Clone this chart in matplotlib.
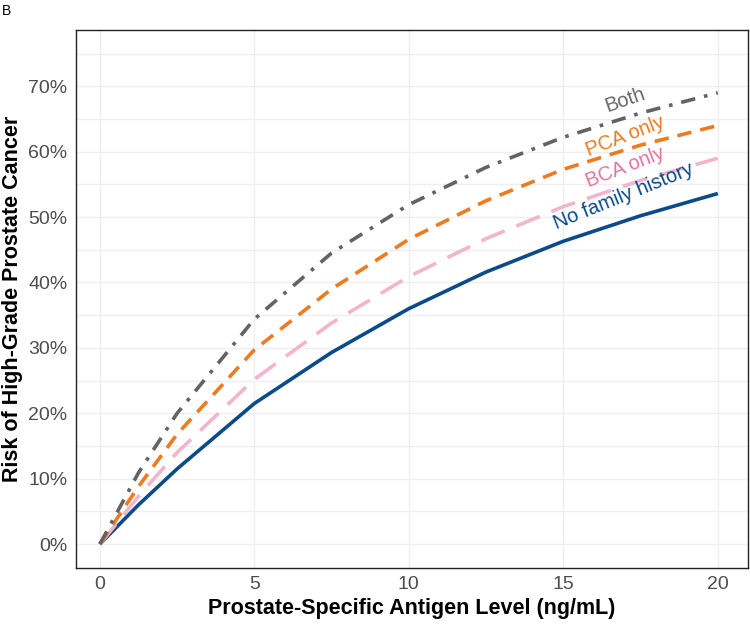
import matplotlib.pyplot as plt
from matplotlib.ticker import PercentFormatter, MultipleLocator

plt.rcParams['font.family'] = ['Liberation Sans', 'DejaVu Sans']

# PSA level (ng/mL)
psa = [0, 1.25, 2.5, 5, 7.5, 10, 12.5, 15, 17.5, 20]

# Risk of high-grade prostate cancer (%)
risk_none = [0, 6.0, 11.5, 21.5, 29.3, 36.0, 41.6, 46.3, 50.2, 53.6]
risk_bca = [0, 7.3, 14.0, 25.2, 33.8, 40.9, 46.7, 51.6, 55.6, 59.0]
risk_pca = [0, 8.8, 16.8, 29.7, 39.0, 46.6, 52.5, 57.3, 61.0, 64.0]
risk_both = [0, 10.9, 20.0, 34.4, 44.5, 51.9, 57.6, 62.2, 65.9, 69.0]

labels = ['No family history', 'BCA only', 'PCA only', 'Both']

fig = plt.figure(figsize=(7.5, 6.25), dpi=100)
ax = fig.add_axes([0.101, 0.091, 0.896, 0.861])

ax.plot(psa, risk_none, color='#0B4A8B', lw=2.6, solid_capstyle='butt')
ax.plot(psa, risk_bca, color='#F2B5CC', lw=2.6, dashes=(7, 3.5))
ax.plot(psa, risk_pca, color='#F07A1E', lw=2.6, dashes=(4, 2.5))
ax.plot(psa, risk_both, color='#636363', lw=2.6, dashes=(4, 2.5, 1, 2.5))

# inline curve labels
ax.text(17.0, 67.9, labels[3], color='#666666', fontsize=14.5, rotation=19,
        ha='center', va='center')
ax.text(17.0, 62.3, labels[2], color='#F07A1E', fontsize=14.5, rotation=21,
        ha='center', va='center')
ax.text(17.0, 57.6, labels[1], color='#E5739F', fontsize=14.5, rotation=21,
        ha='center', va='center')
ax.text(16.95, 53.2, labels[0], color='#0B4A8B', fontsize=14.5, rotation=22,
        ha='center', va='center')

ax.set_xlim(-0.78, 20.97)
ax.set_ylim(-3.67, 78.6)
ax.xaxis.set_major_locator(MultipleLocator(5))
ax.yaxis.set_major_locator(MultipleLocator(10))
ax.yaxis.set_minor_locator(MultipleLocator(5))
ax.yaxis.set_major_formatter(PercentFormatter(decimals=0))

ax.grid(True, which='major', color='#EFEFEF', lw=1.0)
ax.grid(True, which='minor', axis='y', color='#EFEFEF', lw=1.0)
ax.set_axisbelow(True)
ax.tick_params(which='both', length=0, labelsize=14, labelcolor='#4D4D4D')
ax.tick_params(axis='x', pad=6)
ax.tick_params(axis='y', pad=6)
for s in ax.spines.values():
    s.set_color('#222222')
    s.set_linewidth(1.0)

ax.set_xlabel('Prostate-Specific Antigen Level (ng/mL)', fontsize=15.5,
              fontweight='bold', labelpad=3)
ax.set_ylabel('Risk of High-Grade Prostate Cancer', fontsize=15.5,
              fontweight='bold', labelpad=4)

fig.text(0.003, 0.993, 'B', fontsize=10, va='top', ha='left')

fig.savefig('out.png', dpi=100)
